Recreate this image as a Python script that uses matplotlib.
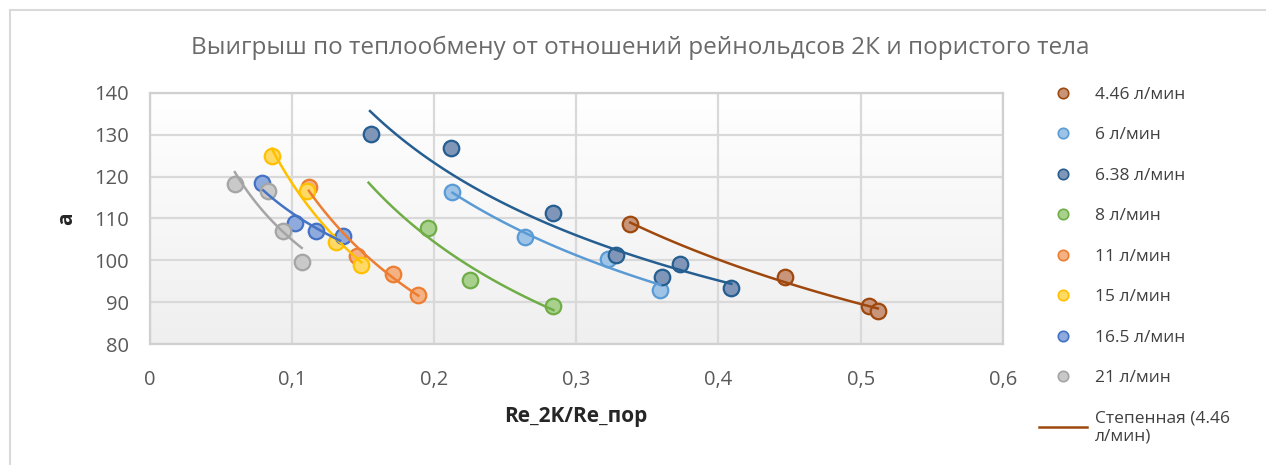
import numpy as np
import matplotlib
matplotlib.use('Agg')
import matplotlib.pyplot as plt
from matplotlib.lines import Line2D
from matplotlib.patches import Rectangle

plt.rcParams['font.family'] = ['Open Sans', 'DejaVu Sans']

# Measured points: a vs Re_2K/Re_пор for each flow rate
labels = ['4.46 л/мин', '6 л/мин', '6.38 л/мин', '8 л/мин',
          '11 л/мин', '15 л/мин', '16.5 л/мин', '21 л/мин']

x_446 = [0.338, 0.447, 0.506, 0.512]
y_446 = [108.6, 95.9, 89.0, 87.8]
x_6 = [0.213, 0.264, 0.322, 0.359]
y_6 = [116.3, 105.6, 100.4, 93.0]
x_638 = [0.156, 0.212, 0.284, 0.328, 0.360, 0.373, 0.409]
y_638 = [130.1, 126.9, 111.3, 101.3, 96.0, 99.2, 93.3]
x_8 = [0.196, 0.225, 0.284]
y_8 = [107.7, 95.4, 89.2]
x_11 = [0.112, 0.146, 0.171, 0.189]
y_11 = [117.6, 101.1, 96.8, 91.8]
x_15 = [0.086, 0.111, 0.131, 0.149]
y_15 = [125.0, 116.6, 104.3, 98.9]
x_165 = [0.079, 0.102, 0.117, 0.136]
y_165 = [118.4, 108.9, 107.0, 105.8]
x_21 = [0.060, 0.083, 0.094, 0.107]
y_21 = [118.2, 116.6, 107.1, 99.7]

# x-span of each power trendline
trend_span = [(0.338, 0.512), (0.213, 0.359), (0.155, 0.409), (0.154, 0.284),
              (0.112, 0.189), (0.086, 0.149), (0.080, 0.134), (0.060, 0.107)]

xs = [x_446, x_6, x_638, x_8, x_11, x_15, x_165, x_21]
ys = [y_446, y_6, y_638, y_8, y_11, y_15, y_165, y_21]

edge_colors = ['#9E480E', '#5B9BD5', '#255E91', '#70AD47',
               '#ED7D31', '#FFC000', '#4472C4', '#A5A5A5']
face_colors = ['#C8957A', '#9DC3E6', '#7F96B8', '#A9D18E',
               '#F4B183', '#FFD966', '#8FAADC', '#C9C9C9']

W, H = 1266, 465
fig = plt.figure(figsize=(W / 100, H / 100), dpi=100)
ax = fig.add_axes([149.5 / W, 1 - 344 / H, (1003 - 149.5) / W, (344 - 93) / H])

# chart frame
fig.patches.append(Rectangle((10 / W, -0.1), 1.2, 1 - 10 / H + 0.1,
                             transform=fig.transFigure, fill=False,
                             edgecolor='#d9d9d9', lw=1.5, zorder=0))

# soft vertical gradient in the plot area
grad = np.linspace(0, 1, 256).reshape(-1, 1)
ax.imshow(grad, extent=[0, 1, 0, 1], transform=ax.transAxes, aspect='auto',
          cmap=matplotlib.colors.LinearSegmentedColormap.from_list('bg', ['#ffffff', '#efefef']),
          zorder=0, origin='upper')

for i in range(len(labels)):
    x = np.array(xs[i])
    y = np.array(ys[i])
    ax.scatter(x, y, s=125, color=face_colors[i], edgecolor=edge_colors[i],
               linewidth=1.6, zorder=3)
    # power trendline y = A * x^b
    b, lnA = np.polyfit(np.log(x), np.log(y), 1)
    xt = np.linspace(trend_span[i][0], trend_span[i][1], 100)
    ax.plot(xt, np.exp(lnA) * xt ** b, color=edge_colors[i], lw=1.8, zorder=4)

ax.set_xlim(0, 0.6)
ax.set_ylim(80, 140)
ax.set_xticks(np.arange(0, 0.61, 0.1))
ax.set_yticks(np.arange(80, 141, 10))
ax.set_xticklabels(['0', '0,1', '0,2', '0,3', '0,4', '0,5', '0,6'])
ax.grid(True, color='#d9d9d9', lw=1.6, zorder=1)
ax.set_axisbelow(True)
for s in ax.spines.values():
    s.set_color('#d0d0d0')
    s.set_linewidth(1.6)
ax.tick_params(length=0, labelsize=14.5, colors='#595959')
ax.tick_params(axis='x', pad=19)
ax.tick_params(axis='y', pad=15)

ax.set_xlabel('Re_2K/Re_пор', fontsize=15, fontweight='bold', color='#262626', labelpad=11)
ax.set_ylabel('a', fontsize=15, fontweight='bold', color='#262626', labelpad=12)

fig.text(640 / W, 1 - 48 / H,
         'Выигрыш по теплообмену от отношений рейнольдсов 2К и пористого тела',
         ha='center', va='center', fontsize=17.5, color='#6a6a6a')

handles = [Line2D([], [], ls='none', marker='o', markersize=7.5,
                  markerfacecolor=face_colors[i], markeredgecolor=edge_colors[i],
                  markeredgewidth=1.2) for i in range(len(labels))]
handles.append(Line2D([], [], color=edge_colors[0], lw=1.8))
leg_labels = labels + ['Степенная (4.46\nл/мин)']
leg = fig.legend(handles, leg_labels, loc='upper left',
                 bbox_to_anchor=(1030 / W, 1 - 78 / H), frameon=False,
                 fontsize=12.5, labelspacing=1.4, handlelength=2.8,
                 handletextpad=0.45, borderpad=0)
for t in leg.get_texts():
    t.set_color('#404040')

fig.savefig('out.png', dpi=100)
